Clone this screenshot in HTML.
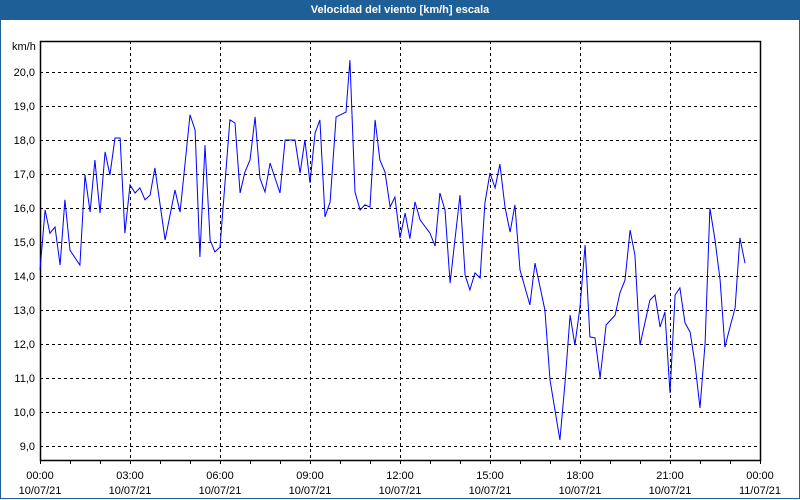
<!DOCTYPE html>
<html><head><meta charset="utf-8"><style>
html,body{margin:0;padding:0;background:#fff;}
#wrap{position:relative;width:798px;height:498px;border:1px solid #1f5f98;border-top:none;overflow:hidden;}
#title{position:absolute;left:0;top:0;width:798px;height:20px;background:#1f5f98;color:#fff;font:bold 11px "Liberation Sans",sans-serif;text-align:center;line-height:21px;}
svg{position:absolute;left:-1px;top:0;}
text{font-family:"Liberation Sans",sans-serif;font-size:11px;fill:#000;}
</style></head><body>
<div id="wrap">
<div id="title">Velocidad del viento [km/h] escala</div>
<svg id="chart" width="800" height="500"></svg>
</div>
<script>
const times=[0,0.17,0.33,0.5,0.67,0.83,1,1.33,1.5,1.67,1.83,2,2.17,2.33,2.5,2.67,2.83,3,3.17,3.33,3.5,3.67,3.83,4.17,4.5,4.67,5,5.17,5.33,5.5,5.67,5.83,6,6.33,6.5,6.67,6.83,7,7.17,7.33,7.5,7.67,8,8.17,8.5,8.67,8.83,9,9.17,9.33,9.5,9.67,9.87,10.2,10.33,10.5,10.67,10.83,11,11.17,11.33,11.5,11.67,11.83,12,12.17,12.33,12.5,12.67,13,13.17,13.33,13.5,13.67,13.83,14,14.17,14.33,14.5,14.67,14.83,15,15.17,15.33,15.5,15.67,15.83,16,16.33,16.5,16.83,17,17.33,17.5,17.67,17.83,18,18.17,18.33,18.5,18.67,18.87,19.17,19.33,19.5,19.67,19.83,20,20.33,20.5,20.67,20.83,21,21.17,21.33,21.5,21.67,21.83,22,22.17,22.33,22.5,22.67,22.83,23,23.17,23.33,23.5];
const speeds=[14.18,15.94,15.26,15.44,14.32,16.24,14.76,14.32,16.97,15.88,17.41,15.85,17.65,16.97,18.06,18.06,15.26,16.68,16.44,16.59,16.24,16.38,17.18,15.06,16.53,15.88,18.74,18.29,14.56,17.85,15.06,14.71,14.85,18.59,18.5,16.44,17.06,17.41,18.68,16.88,16.47,17.32,16.44,18.0,18.0,17.03,18.0,16.74,18.21,18.59,15.74,16.18,18.68,18.82,20.35,16.47,15.94,16.09,16.03,18.59,17.41,17.06,16.03,16.32,15.12,15.85,15.1,16.18,15.65,15.26,14.88,16.44,15.94,13.79,15.06,16.38,14.03,13.59,14.09,13.94,16.15,17.03,16.59,17.29,16.03,15.29,16.09,14.18,13.15,14.38,13.0,10.94,9.18,10.85,12.85,11.97,13.09,14.91,12.21,12.18,11.0,12.56,12.85,13.5,13.88,15.35,14.62,11.97,13.29,13.44,12.5,12.94,10.56,13.44,13.65,12.62,12.35,11.44,10.12,12.03,16.0,15.06,13.88,11.91,12.5,13.06,15.12,14.38,15.21,13.79,14.18,13.79];
const yTicks=[9,10,11,12,13,14,15,16,17,18,19,20];
const yTickLabels=["9,0","10,0","11,0","12,0","13,0","14,0","15,0","16,0","17,0","18,0","19,0","20,0"];
const xTicks=[0,3,6,9,12,15,18,21,24];
const xTickTimes=["00:00","03:00","06:00","09:00","12:00","15:00","18:00","21:00","00:00"];
const xTickDates=["10/07/21","10/07/21","10/07/21","10/07/21","10/07/21","10/07/21","10/07/21","10/07/21","11/07/21"];

const L=40,R=760,T=41,B=460;
const xS=h=>L+h*(R-L)/24;
const yS=v=>72+(20-v)*34;
const svg=document.getElementById('chart');
const NS='http://www.w3.org/2000/svg';
function mk(tag,attrs){const e=document.createElementNS(NS,tag);for(const k in attrs)e.setAttribute(k,attrs[k]);svg.appendChild(e);return e;}

yTicks.forEach((v,i)=>{
  const g=mk('line',{x1:L,x2:R,y1:yS(v)+0.5,y2:yS(v)+0.5,stroke:'#000','stroke-dasharray':'3,3'});
  
  
  const t=mk('text',{x:35,y:yS(v)+4,'text-anchor':'end'});
  t.textContent=yTickLabels[i];
  
  
});
xTicks.forEach((h,i)=>{
  const x=Math.round(xS(h))+0.5;
  if(h>0&&h<24){
    const g=mk('line',{x1:x,x2:x,y1:T,y2:B,stroke:'#000','stroke-dasharray':'3,3'});
    
    
  }
  const t1=mk('text',{x:xS(h),y:479,'text-anchor':'middle'});
  t1.textContent=xTickTimes[i];
  
  
  const t2=mk('text',{x:xS(h),y:494,'text-anchor':'middle'});
  t2.textContent=xTickDates[i];
  
  
});
for(let h=0;h<=24;h++){
  const x=Math.round(xS(h))+0.5;
  const tk=mk('line',{x1:x,x2:x,y1:B,y2:B+4,stroke:'#000'});
  
  
}
const frame=mk('rect',{x:L+0.5,y:T+0.5,width:R-L,height:B-T,fill:'none',stroke:'#000','stroke-width':1.5});



const unit=mk('text',{x:12,y:50});
unit.textContent='km/h';



const pts=times.map((h,i)=>xS(h).toFixed(1)+','+yS(speeds[i]).toFixed(1)).join(' ');
const line=mk('polyline',{points:pts,fill:'none',stroke:'#0000ff','stroke-width':1});


</script>
</body></html>
